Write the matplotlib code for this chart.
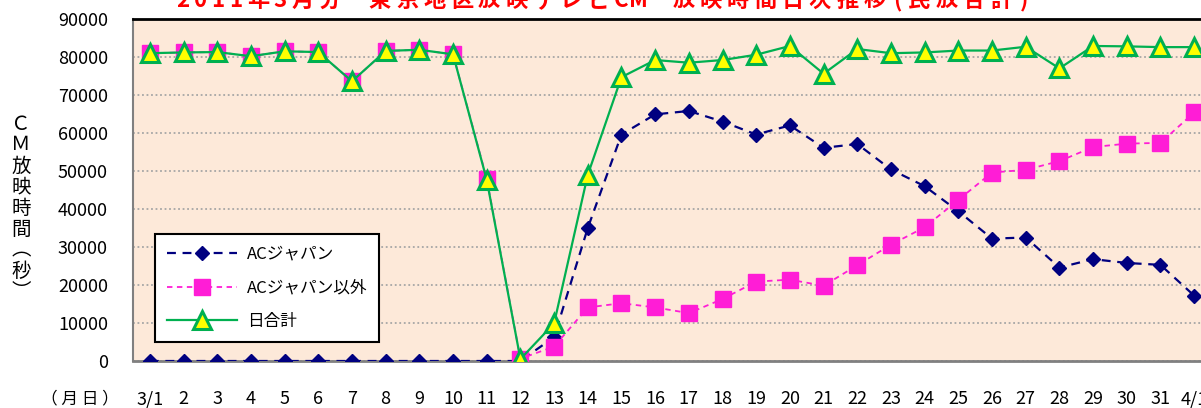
"""
2011年3月分 東京地区 テレビCM放映時間 日次推移
"""
import matplotlib
matplotlib.use('Agg')
import matplotlib.pyplot as plt

plt.rcParams['font.family'] = ['Noto Sans CJK JP', 'DejaVu Sans']

# 日付ラベル (3/1 ~ 4/1)
days = ['3/1'] + [str(d) for d in range(2, 32)] + ['4/1']

# ACジャパン (秒)
ac = [0, 0, 0, 0, 0, 0, 0, 0, 0, 0, 0,
      0, 6300, 35000, 59600, 64900, 65800, 63000, 59600, 62000, 56100,
      57100, 50400, 46000, 39400, 32200, 32500, 24600, 26800, 25800, 25300,
      17200]

# ACジャパン以外 (秒)
non_ac = [81000, 81200, 81300, 80200, 81500, 81300, 73600, 81600, 81900, 80700, 48000,
          600, 3800, 14100, 15200, 14100, 12600, 16300, 20900, 21400, 19800,
          25200, 30600, 35200, 42400, 49600, 50300, 52600, 56300, 57200, 57400,
          65400]

# 日合計 (秒)
total = [81000, 81200, 81300, 80200, 81500, 81300, 73600, 81600, 81900, 80700, 47700,
         500, 9900, 49000, 74700, 79200, 78500, 79200, 80600, 82900, 75600,
         82100, 81000, 81200, 81700, 81700, 82700, 77000, 82900, 82800, 82600,
         82600]

title = '2011年3月分 東京地区放映テレビCM 放映時間日次推移(民放合計)'

W, H = 1201, 408
fig = plt.figure(figsize=(W / 100, H / 100), dpi=100)
fig.patch.set_facecolor('white')

# プロット領域 (右端は画像の外にはみ出す)
left, right, top, bottom = 133, 1211, 19, 361
ax = fig.add_axes([left / W, (H - bottom) / H, (right - left) / W, (bottom - top) / H])
ax.set_facecolor('#FDE9D9')

x = list(range(len(days)))

ax.plot(x, ac, color='#000080', lw=1.6, ls=(0, (4, 3)),
        marker='D', ms=7, mfc='#000080', mec='#000080', label='ACジャパン', zorder=3)
ax.plot(x, non_ac, color='#FF1DD6', lw=1.3, ls=(0, (3, 2.5)),
        marker='s', ms=11, mfc='#FF1DD6', mec='#FF1DD6', label='ACジャパン以外', zorder=4)
ax.plot(x, total, color='#00B050', lw=1.6, ls='-',
        marker='^', ms=13.5, mfc='#FFFF00', mec='#00B050', mew=2.2, label='日合計', zorder=5)

ax.set_xlim(-0.5, len(days) - 0.5)
ax.set_ylim(0, 90000)
ax.set_yticks(range(0, 90001, 10000))
ax.set_yticklabels([str(v) for v in range(0, 90001, 10000)])
ax.set_xticks(x)
ax.set_xticklabels(days)
ax.tick_params(axis='both', length=0, labelsize=13)
ax.tick_params(axis='x', pad=21)
ax.tick_params(axis='y', pad=18)

ax.grid(axis='y', color='#A6A6A6', ls=(0, (1, 1.5)), lw=1.3)
ax.set_axisbelow(True)

ax.spines['right'].set_visible(False)
ax.spines['top'].set_color('black')
ax.spines['top'].set_linewidth(2)
ax.spines['left'].set_color('#808080')
ax.spines['left'].set_linewidth(1.5)
ax.spines['bottom'].set_color('#808080')
ax.spines['bottom'].set_linewidth(2)

# 凡例
leg = fig.legend(loc='upper left', bbox_to_anchor=(155 / W, (H - 234) / H),
                 fontsize=12, frameon=True, fancybox=False, edgecolor='black',
                 framealpha=1, handlelength=4.2, labelspacing=1.0,
                 borderpad=0.7, handletextpad=0.6, borderaxespad=0)
leg.get_frame().set_linewidth(1.5)

# Y軸ラベル (縦書き)
fig.text(21 / W, (H - 208) / H, 'Ｃ\nＭ\n放\n映\n時\n間\n︵\n秒\n︶',
         ha='center', va='center', fontsize=14, linespacing=1.0)

# X軸ラベル
fig.text(80 / W, (H - 399) / H, '（ 月 日 ）', ha='center', va='center', fontsize=12)

# タイトル (文字間隔を広げて一文字ずつ配置)
cx = 183
prev_w = None
for ch in title:
    if ch == ' ':
        w = 22.7
    elif ord(ch) < 128:
        w = 17.5
    else:
        w = 27.3
    if prev_w is not None:
        cx += (prev_w + w) / 2
    if ch != ' ':
        fig.text(cx / W, (H - 7) / H, ch, ha='center', va='baseline',
                 fontsize=16, fontweight='bold', color='#FF0000')
    prev_w = w

plt.savefig('out.png', dpi=100)
